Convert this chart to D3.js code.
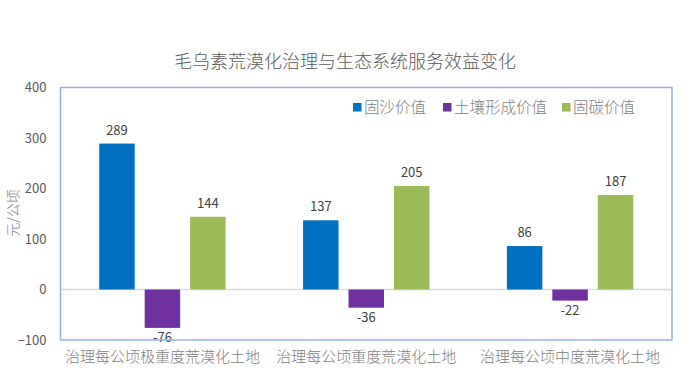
<!DOCTYPE html>
<html><head><meta charset="utf-8">
<script src="https://cdn.jsdelivr.net/npm/d3@7"></script>
<style>
body{margin:0;background:#fff;}
text{font-family:"Noto Sans CJK SC","Noto Sans",sans-serif;}
</style></head>
<body><svg id="c" width="700" height="383"></svg>
<script>
const categories = ["治理每公顷极重度荒漠化土地","治理每公顷重度荒漠化土地","治理每公顷中度荒漠化土地"];
const seriesNames = ["固沙价值","土壤形成价值","固碳价值"];
const sandValues = [289,137,86];
const soilValues = [-76,-36,-22];
const carbonValues = [144,205,187];
const yTicks = [-100,0,100,200,300,400];
const colors = ["#0070c0","#7030a0","#9bbb59"];
const seriesValues = [sandValues, soilValues, carbonValues];

const svg = d3.select("#c");
const L=60.5, R=672, T=87.5, B=340;
const y = d3.scaleLinear().domain([-100,400]).range([B,T]);
const x0 = d3.scaleBand().domain(categories).range([L,R]).padding(0);
const gw = x0.bandwidth()*0.62;
const x1 = d3.scaleBand().domain(seriesNames).range([-gw/2, gw/2]).paddingInner(0.22);

// title
svg.append("text").attr("x",345).attr("y",68).attr("text-anchor","middle")
  .attr("font-size",18).attr("font-weight",300).attr("fill","#595959").text("毛乌素荒漠化治理与生态系统服务效益变化");

// zero line
svg.append("line").attr("x1",L).attr("x2",R).attr("y1",y(0)).attr("y2",y(0))
  .attr("stroke","#d9d9d9").attr("stroke-width",1.5);

// y axis ticks
const yAxis = d3.axisLeft(y).tickValues(yTicks).tickSize(0).tickPadding(14);
const ga = svg.append("g").attr("transform",`translate(${L},0)`).call(yAxis);
ga.select(".domain").remove();
ga.selectAll("text").attr("font-size",13).attr("fill","#595959").attr("font-family","'Open Sans','Noto Sans',sans-serif");

// y label
svg.append("text").attr("transform","translate(18,213) rotate(-90)").attr("text-anchor","middle")
  .attr("font-size",14).attr("font-weight",300).attr("fill","#808080").text("元/公顷");

// bars
categories.forEach((c,i)=>{
  seriesNames.forEach((s,j)=>{
    const v = seriesValues[j][i];
    const cx = x0(c)+x0.bandwidth()/2 + x1(s);
    svg.append("rect").attr("x",cx).attr("width",x1.bandwidth())
      .attr("y",y(Math.max(0,v))).attr("height",Math.abs(y(v)-y(0)))
      .attr("fill",colors[j]);
    svg.append("text").attr("x",cx+x1.bandwidth()/2)
      .attr("y", v>=0 ? y(v)-9 : y(v)+14)
      .attr("text-anchor","middle").attr("font-size",13).attr("fill","#404040")
      .attr("font-family","'Open Sans','Noto Sans',sans-serif").text(v);
  });
});

// frame
svg.append("rect").attr("x",L).attr("y",T).attr("width",R-L).attr("height",B-T)
  .attr("fill","none").attr("stroke","#8eb4e3").attr("stroke-width",1.5);

// x labels
const xAxis = d3.axisBottom(x0).tickSize(0).tickPadding(11);
const gx = svg.append("g").attr("transform",`translate(0,${B})`).call(xAxis);
gx.select(".domain").remove();
gx.selectAll("text").attr("font-size",15).attr("font-weight",300).attr("fill","#808080").attr("font-family","'Noto Sans CJK SC',sans-serif");

// legend
const legX = [353,443,562];
seriesNames.forEach((s,j)=>{
  svg.append("rect").attr("x",legX[j]).attr("y",103).attr("width",8.5).attr("height",8.5).attr("fill",colors[j]);
  svg.append("text").attr("x",legX[j]+11).attr("y",113).attr("font-size",15.5).attr("font-weight",300).attr("fill","#808080").text(s);
});
</script></body></html>
